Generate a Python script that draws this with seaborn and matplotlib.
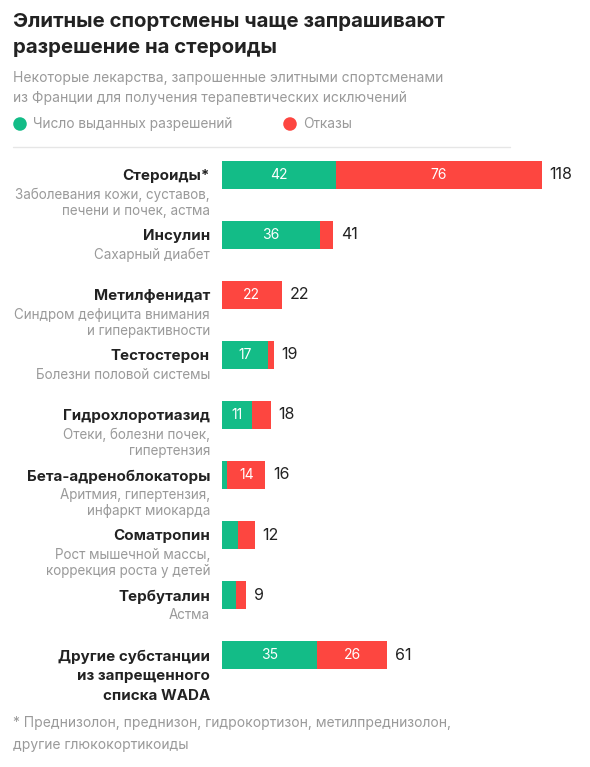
import pandas as pd
import seaborn as sns
import matplotlib.pyplot as plt

# %% Data.
drugs = [
    "Стероиды*",
    "Инсулин",
    "Метилфенидат",
    "Тестостерон",
    "Гидрохлоротиазид",
    "Бета-адреноблокаторы",
    "Соматропин",
    "Тербуталин",
    "Другие субстанции\nиз запрещенного\nсписка WADA",
]
descriptions = [
    "Заболевания кожи, суставов,\nпечени и почек, астма",
    "Сахарный диабет",
    "Синдром дефицита внимания\nи гиперактивности",
    "Болезни половой системы",
    "Отеки, болезни почек,\nгипертензия",
    "Аритмия, гипертензия,\nинфаркт миокарда",
    "Рост мышечной массы,\nкоррекция роста у детей",
    "Астма",
    "",
]
granted = [42, 36, 0, 17, 11, 2, 6, 5, 35]
refused = [76, 5, 22, 2, 7, 14, 6, 4, 26]

GREEN = "#13bc87"
RED = "#fd4640"
DARK = "#222222"
GREY = "#9a9a9a"

df = pd.DataFrame({"drug": drugs, "granted": granted, "refused": refused})
df["total"] = df["granted"] + df["refused"]

# %% Plot.
sns.set_theme(style="white")
plt.rcParams["font.family"] = ["Inter", "DejaVu Sans"]

fig = plt.figure(figsize=(5.9, 7.67), dpi=100)
W, H = 590, 767
ax = fig.add_axes([222 / W, (H - 685) / H, (580 - 222) / W, 540 / H])

# stacked bars: total in red, granted on top in green
sns.barplot(data=df, x="total", y="drug", color=RED, width=0.467,
            saturation=1, linewidth=0, ax=ax)
sns.barplot(data=df, x="granted", y="drug", color=GREEN, width=0.467,
            saturation=1, linewidth=0, ax=ax)

ax.set_xlim(0, 358 / 2.712)
ax.set_ylim(len(drugs) - 0.5, -0.5)
ax.set_xlabel("")
ax.set_ylabel("")
ax.set_xticks([])
ax.set_yticks([])
sns.despine(ax=ax, left=True, bottom=True)

for i, row in df.iterrows():
    g, r, t = row["granted"], row["refused"], row["total"]
    if g >= 10:
        ax.text(g / 2, i, str(g), ha="center", va="center",
                color="white", fontsize=10)
    if r >= 10:
        ax.text(g + r / 2, i, str(r), ha="center", va="center",
                color="white", fontsize=10)
    ax.annotate(str(t), xy=(t, i), xytext=(5.5, 0), textcoords="offset points",
                ha="left", va="center", color=DARK, fontsize=11.5)

    # left side labels
    name_lines = drugs[i].split("\n")
    for k, line in enumerate(name_lines):
        ax.annotate(line, xy=(0, i), xycoords=("axes fraction", "data"),
                    xytext=(-8.6, -1 - k * 14.4), textcoords="offset points",
                    ha="right", va="center", color=DARK, fontsize=10.9,
                    fontweight="bold")
    if descriptions[i]:
        for k, line in enumerate(descriptions[i].split("\n")):
            ax.annotate(line, xy=(0, i), xycoords=("axes fraction", "data"),
                        xytext=(-8.6, -14.4 - k * 11.5),
                        textcoords="offset points", ha="right", va="center",
                        color=GREY, fontsize=9.7)

# %% Header, legend and footnote.
fig.text(13 / W, 1 - 22 / H, "Элитные спортсмены чаще запрашивают",
         fontsize=14.7, fontweight="bold", color=DARK, va="center")
fig.text(13 / W, 1 - 48 / H, "разрешение на стероиды",
         fontsize=14.7, fontweight="bold", color=DARK, va="center")
fig.text(13 / W, 1 - 78 / H, "Некоторые лекарства, запрошенные элитными спортсменами",
         fontsize=10.0, color=GREY, va="center")
fig.text(13 / W, 1 - 98 / H, "из Франции для получения терапевтических исключений",
         fontsize=10.0, color=GREY, va="center")

leg_ax = fig.add_axes([0, 0, 1, 1], facecolor="none")
leg_ax.set_xlim(0, W)
leg_ax.set_ylim(H, 0)
leg_ax.axis("off")
leg_ax.scatter([20, 290], [124, 124], s=95, c=[GREEN, RED], linewidths=0)
leg_ax.plot([13, 510], [146.5, 146.5], color="#e6e6e6", linewidth=1)
for cx, label in [(20, "Число выданных разрешений"), (290, "Отказы")]:
    leg_ax.text(cx + 13, 124, label, fontsize=9.9, color=GREY, va="center")

fig.text(13 / W, 1 - 723 / H,
         "* Преднизолон, преднизон, гидрокортизон, метилпреднизолон,",
         fontsize=10.0, color=GREY, va="center")
fig.text(13 / W, 1 - 745 / H, "другие глюкокортикоиды",
         fontsize=10.0, color=GREY, va="center")

fig.savefig("out.png", dpi=100, facecolor="white")
